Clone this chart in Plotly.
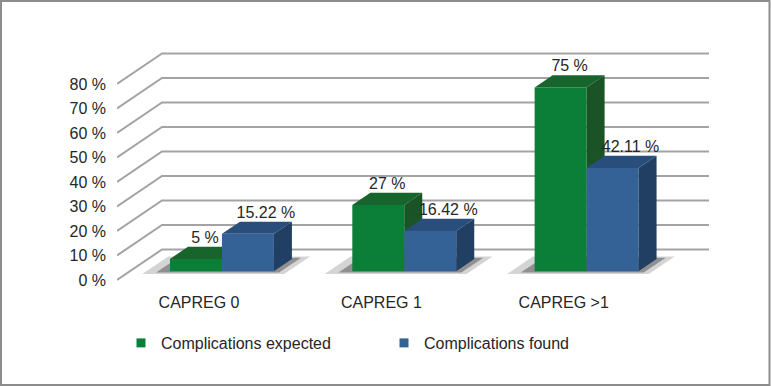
import plotly.graph_objects as go

# ---- data ----
categories = ["CAPREG 0", "CAPREG 1", "CAPREG >1"]
expected = [5, 27, 75]
found = [15.22, 16.42, 42.11]
series_names = ["Complications expected", "Complications found"]
y_ticks = [0, 10, 20, 30, 40, 50, 60, 70, 80]

# ---- styles / geometry of the oblique projection (in axis units) ----
FONT = "Liberation Sans, Arial, sans-serif"
FS = 16
TXT = "#262626"
DX, DY = 0.2468, 12.45       # full floor depth offset in x / value units
D0, D1 = 0.29, 0.69          # bar depth (front, back) as fraction of floor depth
GAP, W = 0.219, 0.285        # bar offset in group and bar width
colors = {
    0: dict(front="#0b7f38", top="#17652d", side="#1a5426"),
    1: dict(front="#356296", top="#2a4e7c", side="#213f63"),
}


def P(x, v, d):
    return x + d * DX, v + d * DY


def poly(pts, color, opacity=1.0):
    xs = [p[0] for p in pts] + [pts[0][0]]
    ys = [p[1] for p in pts] + [pts[0][1]]
    return go.Scatter(x=xs, y=ys, mode="lines", fill="toself", fillcolor=color,
                      line=dict(width=0, color=color), opacity=opacity,
                      hoverinfo="skip", showlegend=False)


fig = go.Figure()

# gridlines (floor diagonal + back wall line)
gx, gy = [], []
n = len(categories)
for v in y_ticks:
    for (px, pv) in [P(0, v, 0), P(0, v, 1), P(n, v, 1)]:
        gx.append(px); gy.append(pv)
    gx.append(None); gy.append(None)
fig.add_trace(go.Scatter(x=gx, y=gy, mode="lines", line=dict(color="#a3a3a3", width=2),
                         hoverinfo="skip", showlegend=False))

# shadows on the floor
for i in range(n):
    xl = i + GAP
    xr = xl + 2 * W
    for grow, op in [(0.08, 0.2), (0.04, 0.4)]:
        pts = [P(xl - grow * 1.6, 0, D0 - grow * 1.2), P(xr + grow, 0, D0 - grow * 1.2),
               P(xr + grow, 0, D1 + grow), P(xl - grow * 1.6, 0, D1 + grow)]
        fig.add_trace(poly(pts, "#2a2a2a", op))

# bars
series = [expected, found]
for i in range(n):
    for k, vals in enumerate(series):
        x0 = i + GAP + k * W
        x1 = x0 + W
        t = vals[i]
        c = colors[k]
        fig.add_trace(poly([P(x0, 0, D0), P(x1, 0, D0), P(x1, t, D0), P(x0, t, D0)], c["front"]))
        fig.add_trace(poly([P(x0, t, D0), P(x1, t, D0), P(x1, t, D1), P(x0, t, D1)], c["top"]))
        fig.add_trace(poly([P(x1, 0, D0), P(x1, 0, D1), P(x1, t, D1), P(x1, t, D0)], c["side"]))

# data labels
for k, vals in enumerate(series):
    dl = (D0 + D1) / 2 if k == 0 else D1
    lx, ly = [], []
    for i in range(n):
        x0 = i + GAP + k * W
        px, _ = P(x0 + W / 2, vals[i], dl)
        lx.append(px); ly.append(P(0, vals[i], D1)[1])
    fig.add_trace(go.Scatter(x=lx, y=ly, mode="text", text=[f"{v:g} %" for v in vals],
                             textposition="top center",
                             textfont=dict(family=FONT, size=FS, color=TXT),
                             hoverinfo="skip", showlegend=False))

# legend entries
for k, name in enumerate(series_names):
    fig.add_trace(go.Scatter(x=[None], y=[None], mode="markers", name=name,
                             marker=dict(symbol="square", size=9, color=colors[k]["front"])))

PXX = 182.33
PXV = 2.45
fig.update_layout(
    width=771, height=386, autosize=False,
    margin=dict(l=117, r=0, t=0, b=96),
    paper_bgcolor="white", plot_bgcolor="white",
    font=dict(family=FONT, size=FS, color=TXT),
    xaxis=dict(range=[0, 654 / PXX], showgrid=False, zeroline=False, showline=False,
               tickmode="array", tickvals=[i + 0.45 for i in range(n)], ticktext=categories,
               ticks="", ticklabelstandoff=1),
    yaxis=dict(range=[-10 / PXV, 280 / PXV], showgrid=False, zeroline=False, showline=False,
               tickmode="array", tickvals=y_ticks, ticktext=[f"{v} %" for v in y_ticks],
               ticks="", ticklabelstandoff=10),
    showlegend=True,
    legend=dict(orientation="h", x=(121 - 117) / 654, xanchor="left",
                y=1 - 343 / 290, yanchor="middle", entrywidth=218,
                font=dict(family=FONT, size=FS, color=TXT), itemwidth=30),
    shapes=[dict(type="rect", xref="paper", yref="paper",
                 x0=-116 / 654, x1=(769.5 - 117) / 654, y0=1 - 385 / 290, y1=1 - 1 / 290,
                 line=dict(color="#8c8c8c", width=2), fillcolor="rgba(0,0,0,0)", layer="above")],
)

fig.write_html("out.html", config={"displayModeBar": False},
               post_script="document.body.style.margin='0';")
